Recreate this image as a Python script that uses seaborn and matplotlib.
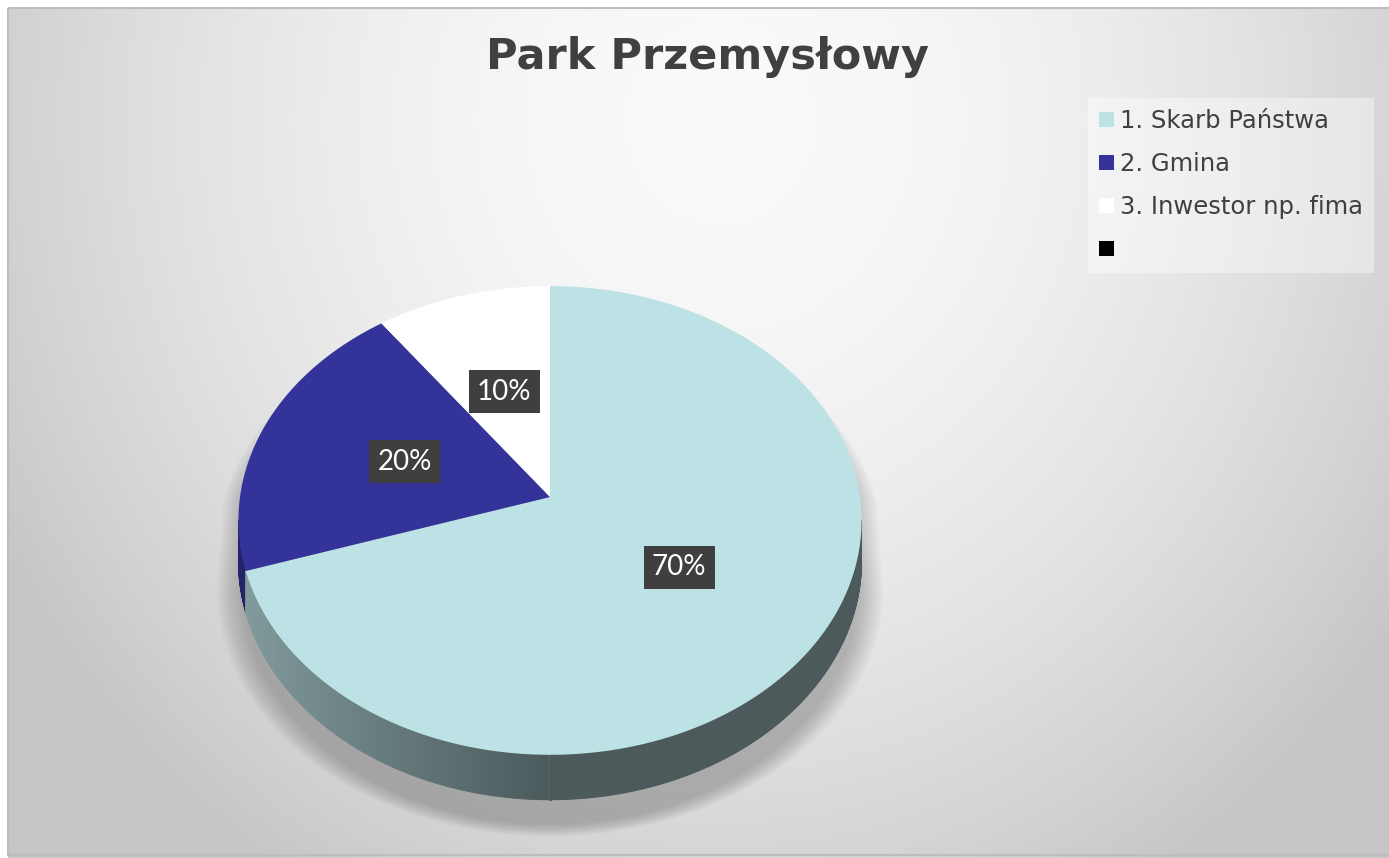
import numpy as np
import matplotlib
matplotlib.use("Agg")
import matplotlib.pyplot as plt
from matplotlib.patches import Patch, Rectangle
from matplotlib.collections import PolyCollection
import seaborn as sns

# dane wykresu
tytul = "Park Przemysłowy"
kategorie = ["1. Skarb Państwa", "2. Gmina", "3. Inwestor np. fima", ""]
udzialy = [70, 20, 10, 0]
kolory = ["#BDE2E5", "#333399", "#FFFFFF", "#000000"]

sns.set_theme(style="white")
plt.rcParams["font.family"] = ["DejaVu Sans"]
paleta = sns.color_palette(kolory)

W, H = 1389, 858
fig = plt.figure(figsize=(W / 100, H / 100), dpi=100)
ax = fig.add_axes([0, 0, 1, 1])
ax.set_xlim(0, W)
ax.set_ylim(H, 0)
ax.axis("off")

# tlo - szary gradient jak w Excelu
yy, xx = np.mgrid[0:H, 0:W]
d = np.sqrt(((xx - 720) / 820.0) ** 2 + ((yy - 120) / 900.0) ** 2)
tlo = (250 - 52 * np.clip(d, 0, 1) ** 1.8) / 255.0
tlo[:8, :] = 1.0
tlo[:, :8] = 1.0
ax.imshow(np.dstack([tlo] * 3), extent=(0, W, H, 0), aspect="auto", zorder=0,
          interpolation="bilinear")
ax.add_patch(Rectangle((8, 8), W, H - 11, fill=False, edgecolor="#bdbdbd", lw=1.5, zorder=1))

# rzut perspektywiczny tarczy 3D
CX, CY = 550, 497
RX, RY = 310, 232
K = 0.10
GLEB = 40.5


def rzut(u, v, dz=0.0):
    w = 1 + K * v
    return CX + RX * u / w, CY - RY * v / w + dz / w


frac = np.cumsum([0] + udzialy) / np.sum(udzialy)
granice = np.pi / 2 - 2 * np.pi * frac
kat_s = np.arcsin(K)

# cien pod tarcza
t_gora = np.linspace(kat_s, np.pi - kat_s, 200)
t_dol = np.linspace(np.pi + kat_s, 2 * np.pi - kat_s, 200)
xs1, ys1 = rzut(np.cos(t_gora), np.sin(t_gora))
xs2, ys2 = rzut(np.cos(t_dol), np.sin(t_dol), GLEB)
sx = np.r_[xs1, xs2]
sy = np.r_[ys1, ys2]
for s in np.linspace(1.07, 0.99, 14):
    ax.fill(CX + (sx - CX) * s, CY + (sy - CY) * (0.5 + 0.5 * s) + 26, color="black",
            alpha=0.016, lw=0, zorder=2)

# bok tarczy
th = np.linspace(np.pi + kat_s, 2 * np.pi - kat_s, 400)
polys, cols = [], []
for a, b in zip(th[:-1], th[1:]):
    m = (a + b) / 2
    f = ((np.pi / 2 - m) % (2 * np.pi)) / (2 * np.pi)
    i = np.searchsorted(frac, f, side="right") - 1
    u = np.cos(m)
    shade = 0.70 - 0.30 * np.clip(u + 1, 0, 1)
    c = np.array(paleta[i]) * shade
    x1, y1 = rzut(np.cos([a, b]), np.sin([a, b]))
    x2, y2 = rzut(np.cos([b, a]), np.sin([b, a]), GLEB)
    polys.append(np.column_stack([np.r_[x1, x2], np.r_[y1, y2]]))
    cols.append(c)
ax.add_collection(PolyCollection(polys, facecolors=cols, edgecolors=cols, lw=0.6, zorder=4))

# gorna powierzchnia
for i, (a0, a1) in enumerate(zip(granice[:-1], granice[1:])):
    if udzialy[i] == 0:
        continue
    t = np.linspace(a0, a1, 300)
    x, y = rzut(np.r_[0, np.cos(t), 0], np.r_[0, np.sin(t), 0])
    ax.fill(x, y, color=paleta[i], lw=0, zorder=5)

    mid = (a0 + a1) / 2
    lx, ly = rzut(0.5 * np.cos(mid), 0.5 * np.sin(mid))
    ax.text(lx, ly, f"{udzialy[i]}%", ha="center", va="center", fontsize=20,
            family=["Lato", "DejaVu Sans"], color="white", zorder=7,
            bbox=dict(boxstyle="square,pad=0.3", fc="#3f3f3f", ec="none"))

# tytul
fig.text(707 / W, 1 - 57 / H, tytul, ha="center", va="center", fontsize=31,
         fontweight="bold", color="#404040")

# legenda
uchwyty = [Patch(facecolor=paleta[i], edgecolor="none") for i in range(len(kategorie))]
leg = fig.legend(uchwyty, kategorie, loc="upper left", bbox_to_anchor=(1088 / W, 1 - 98 / H),
                 fontsize=17.5, frameon=True, fancybox=False, framealpha=0.4,
                 facecolor="white", edgecolor="none", handlelength=0.6, handleheight=0.6,
                 handletextpad=0.25, labelspacing=0.78, borderpad=0.45, borderaxespad=0)
for txt in leg.get_texts():
    txt.set_color("#404040")

plt.savefig("out.png", dpi=100)
